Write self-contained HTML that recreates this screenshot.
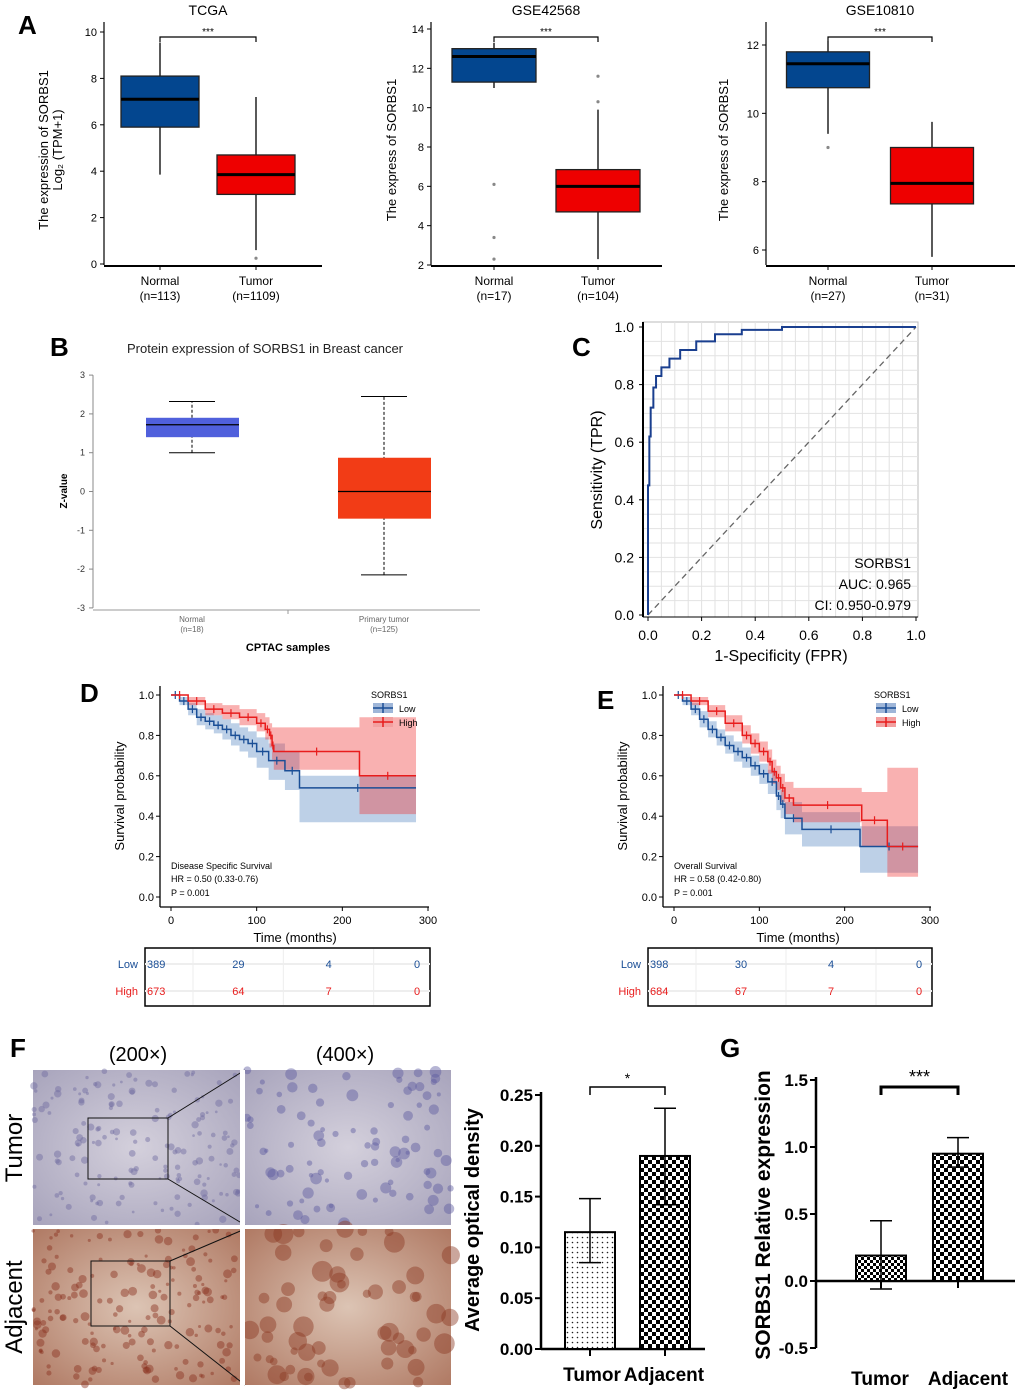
<!DOCTYPE html>
<html><head><meta charset="utf-8"><style>
html,body{margin:0;padding:0;background:#fff;}
svg{display:block;font-family:"Liberation Sans",Arial,sans-serif;}
</style></head><body>
<svg id="fig" width="1020" height="1393" viewBox="0 0 1020 1393" xmlns="http://www.w3.org/2000/svg">
<defs>
<pattern id="dots" width="5" height="5" patternUnits="userSpaceOnUse"><rect width="5" height="5" fill="#fff"/><circle cx="2.5" cy="2.5" r="0.8" fill="#222"/></pattern>
<pattern id="check" width="8" height="8" patternUnits="userSpaceOnUse"><rect width="8" height="8" fill="#fff"/><rect width="4" height="4" fill="#000"/><rect x="4" y="4" width="4" height="4" fill="#000"/></pattern>
<pattern id="check2" width="6" height="6" patternUnits="userSpaceOnUse"><rect width="6" height="6" fill="#fff"/><rect width="3" height="3" fill="#000"/><rect x="3" y="3" width="3" height="3" fill="#000"/></pattern>
<radialGradient id="tumA" cx="0.5" cy="0.5" r="0.7"><stop offset="0" stop-color="#d4d0dc"/><stop offset="1" stop-color="#a8a4bc"/></radialGradient>
<radialGradient id="adjA" cx="0.5" cy="0.5" r="0.7"><stop offset="0" stop-color="#dcc4b4"/><stop offset="1" stop-color="#b07a64"/></radialGradient>
</defs>
<g font-size="22" font-weight="bold">
<text x="18" y="34" font-size="26">A</text>
<text x="50" y="356" font-size="26">B</text>
<text x="572" y="356" font-size="26">C</text>
<text x="80" y="702" font-size="26">D</text>
<text x="597" y="709" font-size="26">E</text>
<text x="10" y="1057" font-size="26">F</text>
<text x="720" y="1057" font-size="26">G</text>
</g>
</svg>
<script>
const NS="http://www.w3.org/2000/svg";
const svg=document.getElementById('fig');
function mk(tag,attrs,parent){const e=document.createElementNS(NS,tag);for(const k in attrs)e.setAttribute(k,attrs[k]);(parent||svg).appendChild(e);return e;}
function tx(x,y,s,attrs,parent){const e=mk('text',Object.assign({x:x,y:y},attrs||{}),parent);e.textContent=s;return e;}

// ===== Panel A data =====
const aTitles=["TCGA","GSE42568","GSE10810"];
const aGroups=["Normal","Tumor"];
const aCounts=[["(n=113)","(n=1109)"],["(n=17)","(n=104)"],["(n=27)","(n=31)"]];
const aTicks=[[0,2,4,6,8,10],[2,4,6,8,10,12,14],[6,8,10,12]];
// [whiskerLow,q1,median,q3,whiskerHigh]
const aNormal=[[3.85,5.9,7.1,8.1,9.55],[11.0,11.3,12.6,13.0,13.3],[9.4,10.75,11.45,11.8,12.1]];
const aTumor=[[0.6,3.0,3.85,4.7,7.2],[2.3,4.7,6.0,6.85,9.9],[5.8,7.35,7.95,9.0,9.75]];
const aOutNormal=[[],[6.1,3.4,2.3],[9.0]];
const aOutTumor=[[0.25],[10.3,11.6],[]];
const aLayout=[
 {ax:104,x1:322,v0:0,y0:264,v1:10,y1:32,cx:[160,256],bw:78,ylab:["The expression of SORBS1","Log\u2082 (TPM+1)"],labx:[48,62]},
 {ax:431,x1:662,v0:2,y0:265,v1:14,y1:29,cx:[494,598],bw:84,ylab:["The express of SORBS1"],labx:[396]},
 {ax:766,x1:1015,v0:6,y0:250,v1:12,y1:45,cx:[828,932],bw:83,ylab:["The express of SORBS1"],labx:[728]}];
aLayout.forEach((L,i)=>{
  const g=mk('g',{});
  
  
  const ys=v=>L.y0+(v-L.v0)*(L.y1-L.y0)/(L.v1-L.v0);
  const t=tx((L.cx[0]+L.cx[1])/2,15,aTitles[i],{'text-anchor':'middle','font-size':14},g);
  
  
  const top=22, bot=265;
  mk('line',{x1:L.ax,y1:top,x2:L.ax,y2:bot,stroke:'#000','stroke-width':1.2},g);
  mk('line',{x1:L.ax,y1:bot+1,x2:L.x1,y2:bot+1,stroke:'#000','stroke-width':2},g);
  aTicks[i].forEach(v=>{
    mk('line',{x1:L.ax-4,y1:ys(v),x2:L.ax,y2:ys(v),stroke:'#000'},g);
    const tk=tx(L.ax-7,ys(v)+4,String(v),{'text-anchor':'end','font-size':11},g);
    
    
  });
  L.ylab.forEach((s,k)=>{
    const yl=tx(L.labx[k],150,s,{'text-anchor':'middle','font-size':13,transform:'rotate(-90 '+L.labx[k]+' 150)'},g);
    
    
  });
  [aNormal[i],aTumor[i]].forEach((b,j)=>{
    const cx=L.cx[j],hw=L.bw/2,col=j?'#ee0000':'#03468f';
    mk('line',{x1:cx,y1:bot+1,x2:cx,y2:bot+5,stroke:'#000'},g);
    mk('line',{x1:cx,y1:ys(b[0]),x2:cx,y2:ys(b[4]),stroke:'#000','stroke-width':1.3},g);
    const r=mk('rect',{x:cx-hw,y:ys(b[3]),width:L.bw,height:ys(b[1])-ys(b[3]),fill:col,stroke:'#222','stroke-width':1.3},g);
    
    
    mk('line',{x1:cx-hw,y1:ys(b[2]),x2:cx+hw,y2:ys(b[2]),stroke:'#000','stroke-width':3},g);
    (j?aOutTumor[i]:aOutNormal[i]).forEach(o=>{
      const c=mk('circle',{cx:cx,cy:ys(o),r:1.6,fill:'#888'},g);
      
      
    });
    const xl=tx(cx,285,aGroups[j],{'text-anchor':'middle','font-size':12},g);
    
    
    tx(cx,300,aCounts[i][j],{'text-anchor':'middle','font-size':12},g);
  });
  const by=37;
  mk('path',{d:`M${L.cx[0]} ${by+5}V${by}H${L.cx[1]}V${by+5}`,fill:'none',stroke:'#000','stroke-width':1.2},g);
  tx((L.cx[0]+L.cx[1])/2,by-2,'***',{'text-anchor':'middle','font-size':10},g);
});

// ===== Panel B data =====
const bGroups=["Normal","Primary tumor"];
const bCounts=["(n=18)","(n=125)"];
const bBoxes=[[1.0,1.4,1.72,1.9,2.32],[-2.15,-0.7,0.0,0.87,2.45]];
const bTicks=[-3,-2,-1,0,1,2,3];
(function(){
  const g=mk('g',{});
  
  
  const ys=v=>491.5-v*38.8;
  const cxs=[192,384],cols=['#5060dc','#f23c16'];
  tx(265,353,'Protein expression of SORBS1 in Breast cancer',{'text-anchor':'middle','font-size':13,fill:'#222'},g);
  mk('line',{x1:93,y1:ys(3),x2:93,y2:ys(-3),stroke:'#888'},g);
  mk('line',{x1:93,y1:610,x2:480,y2:610,stroke:'#999'},g);
  mk('line',{x1:288,y1:610,x2:288,y2:614,stroke:'#999'},g);
  bTicks.forEach(v=>{
    mk('line',{x1:89,y1:ys(v),x2:93,y2:ys(v),stroke:'#888'},g);
    tx(85,ys(v)+3,String(v),{'text-anchor':'end','font-size':9,fill:'#333'},g);
  });
  const zl=tx(67,491,'Z-value',{'text-anchor':'middle','font-size':10,'font-weight':'bold',transform:'rotate(-90 67 491)'},g);
  
  
  bBoxes.forEach((b,j)=>{
    const cx=cxs[j];
    mk('line',{x1:cx,y1:ys(b[0]),x2:cx,y2:ys(b[4]),stroke:'#000','stroke-dasharray':'3,2'},g);
    mk('line',{x1:cx-23,y1:ys(b[0]),x2:cx+23,y2:ys(b[0]),stroke:'#000'},g);
    mk('line',{x1:cx-23,y1:ys(b[4]),x2:cx+23,y2:ys(b[4]),stroke:'#000'},g);
    const r=mk('rect',{x:cx-46,y:ys(b[3]),width:93,height:ys(b[1])-ys(b[3]),fill:cols[j]},g);
    
    
    mk('line',{x1:cx-46,y1:ys(b[2]),x2:cx+47,y2:ys(b[2]),stroke:'#000','stroke-width':1.3},g);
    tx(cx,622,bGroups[j],{'text-anchor':'middle','font-size':8,fill:'#666'},g);
    tx(cx,632,bCounts[j],{'text-anchor':'middle','font-size':8,fill:'#666'},g);
  });
  tx(288,651,'CPTAC samples',{'text-anchor':'middle','font-size':11,'font-weight':'bold'},g);
})();

// ===== Panel C data =====
const rocFPR=[0,0,0.005,0.005,0.01,0.01,0.02,0.02,0.03,0.03,0.05,0.05,0.08,0.08,0.12,0.12,0.18,0.18,0.25,0.25,0.35,0.35,0.5,0.5,1.0];
const rocTPR=[0,0.45,0.45,0.62,0.62,0.72,0.72,0.79,0.79,0.83,0.83,0.86,0.86,0.89,0.89,0.92,0.92,0.95,0.95,0.975,0.975,0.99,0.99,1.0,1.0];
const rocTicks=[0,0.2,0.4,0.6,0.8,1.0];
(function(){
  const g=mk('g',{});
  
  
  const xs=v=>648+v*268, ys=v=>615-v*288;
  mk('rect',{x:643,y:322,width:275,height:295,fill:'#fff',stroke:'#bbb'},g);
  for(let v=0.05;v<1;v+=0.05){
    mk('line',{x1:xs(v),y1:322,x2:xs(v),y2:617,stroke:'#e2e2e2'},g);
    mk('line',{x1:643,y1:ys(v),x2:918,y2:ys(v),stroke:'#e2e2e2'},g);
  }
  mk('line',{x1:643,y1:322,x2:643,y2:617,stroke:'#000','stroke-width':2},g);
  mk('line',{x1:643,y1:617,x2:918,y2:617,stroke:'#000','stroke-width':1},g);
  rocTicks.forEach(v=>{
    mk('line',{x1:xs(v),y1:617,x2:xs(v),y2:621,stroke:'#000'},g);
    tx(xs(v),640,v.toFixed(1),{'text-anchor':'middle','font-size':14},g);
    mk('line',{x1:639,y1:ys(v),x2:643,y2:ys(v),stroke:'#000'},g);
    tx(634,ys(v)+5,v.toFixed(1),{'text-anchor':'end','font-size':14},g);
  });
  mk('line',{x1:xs(0),y1:ys(0),x2:xs(1),y2:ys(1),stroke:'#666','stroke-dasharray':'6,4','stroke-width':1.3},g);
  const pts=rocFPR.map((f,i)=>xs(f)+','+ys(rocTPR[i])).join(' ');
  const pl=mk('polyline',{points:pts,fill:'none',stroke:'#1a3f8f','stroke-width':2},g);
  
  
  tx(911,568,'SORBS1',{'text-anchor':'end','font-size':14},g);
  tx(911,589,'AUC: 0.965',{'text-anchor':'end','font-size':14},g);
  tx(911,610,'CI: 0.950-0.979',{'text-anchor':'end','font-size':14},g);
  const xl=tx(781,661,'1-Specificity (FPR)',{'text-anchor':'middle','font-size':16},g);
  
  
  const yl=tx(602,470,'Sensitivity (TPR)',{'text-anchor':'middle','font-size':16,transform:'rotate(-90 602 470)'},g);
  
  
})();

// ===== Panels D/E data =====
const dLowT=[0,10,20,30,40,50,60,70,80,90,100,114,133,150,286];
const dLowS=[1,0.97,0.93,0.89,0.87,0.85,0.83,0.8,0.78,0.76,0.72,0.675,0.625,0.54,0.54];
const dLowU=[1,0.99,0.96,0.93,0.91,0.9,0.88,0.86,0.84,0.82,0.79,0.76,0.72,0.6,0.6];
const dLowL=[1,0.95,0.9,0.85,0.83,0.81,0.78,0.75,0.72,0.69,0.64,0.58,0.53,0.37,0.37];
const dHighT=[0,20,40,60,80,100,110,115,118,120,220,286];
const dHighS=[1,0.97,0.93,0.91,0.89,0.86,0.83,0.8,0.75,0.72,0.6,0.6];
const dHighU=[1,0.99,0.96,0.95,0.93,0.91,0.89,0.86,0.84,0.84,0.89,0.89];
const dHighL=[1,0.95,0.9,0.88,0.85,0.82,0.78,0.74,0.68,0.63,0.41,0.41];
const eLowT=[0,10,20,30,40,50,60,70,80,90,100,110,120,125,130,150,218,286];
const eLowS=[1,0.97,0.93,0.88,0.83,0.79,0.75,0.72,0.69,0.65,0.61,0.57,0.5,0.46,0.39,0.335,0.25,0.25];
const eLowU=[1,0.99,0.96,0.92,0.87,0.83,0.8,0.77,0.74,0.7,0.66,0.63,0.57,0.53,0.47,0.42,0.35,0.35];
const eLowL=[1,0.95,0.9,0.84,0.79,0.75,0.71,0.67,0.64,0.6,0.56,0.51,0.43,0.39,0.31,0.25,0.12,0.12];
const eHighT=[0,20,40,60,80,90,100,110,115,120,125,130,140,220,250,286];
const eHighS=[1,0.97,0.92,0.86,0.8,0.76,0.72,0.67,0.62,0.59,0.54,0.49,0.455,0.38,0.25,0.25];
const eHighU=[1,0.99,0.95,0.9,0.85,0.81,0.77,0.73,0.68,0.65,0.61,0.57,0.54,0.52,0.64,0.64];
const eHighL=[1,0.95,0.89,0.82,0.76,0.71,0.67,0.61,0.56,0.53,0.47,0.41,0.37,0.25,0.1,0.1];
const riskTimes=[0,100,200,300];
const dRiskLow=[389,29,4,0], dRiskHigh=[673,64,7,0];
const eRiskLow=[398,30,4,0], eRiskHigh=[684,67,7,0];
const kmTicksX=[0,100,200,300], kmTicksY=[0,0.2,0.4,0.6,0.8,1.0];

function km(cfg){
  const g=mk('g',{});
  
  
  const xs=t=>cfg.x0+t*(cfg.x1-cfg.x0)/300, ys=v=>897-v*202;
  const ax=cfg.x0-11;
  mk('line',{x1:ax,y1:686,x2:ax,y2:907,stroke:'#000','stroke-width':1.3},g);
  mk('line',{x1:ax,y1:907,x2:cfg.x1+1,y2:907,stroke:'#000','stroke-width':1.3},g);
  kmTicksX.forEach(t=>{
    mk('line',{x1:xs(t),y1:907,x2:xs(t),y2:911,stroke:'#000'},g);
    tx(xs(t),924,String(t),{'text-anchor':'middle','font-size':11},g);
  });
  kmTicksY.forEach(v=>{
    mk('line',{x1:ax-4,y1:ys(v),x2:ax,y2:ys(v),stroke:'#000'},g);
    tx(ax-6,ys(v)+4,v.toFixed(1),{'text-anchor':'end','font-size':11},g);
  });
  function stepPath(T,S){let d=`M${xs(T[0])} ${ys(S[0])}`;for(let i=1;i<T.length;i++){d+=`H${xs(T[i])}V${ys(S[i])}`;}return d;}
  function band(T,U,L){let d=`M${xs(T[0])} ${ys(U[0])}`;for(let i=1;i<T.length;i++)d+=`H${xs(T[i])}V${ys(U[i])}`;
    d+=`V${ys(L[L.length-1])}`;for(let i=T.length-1;i>0;i--)d+=`H${xs(T[i])}V${ys(L[i-1])}`;d+=`H${xs(T[0])}Z`;return d;}
  const b1=mk('path',{d:band(cfg.lowT,cfg.lowU,cfg.lowL),fill:'#5b8ac4','fill-opacity':0.4},g);
  
  
  const b2=mk('path',{d:band(cfg.highT,cfg.highU,cfg.highL),fill:'#ee3333','fill-opacity':0.38},g);
  
  
  [[cfg.lowT,cfg.lowS,'#1a4e96','low'],[cfg.highT,cfg.highS,'#e81c1c','high']].forEach(([T,S,c,n])=>{
    const p=mk('path',{d:stepPath(T,S),fill:'none',stroke:c,'stroke-width':1.5},g);
    
    
    for(let i=1;i<T.length;i++){
      const tm=(T[i-1]+T[i])/2, y=ys(S[i-1]);
      mk('line',{x1:xs(tm),y1:y-4,x2:xs(tm),y2:y+4,stroke:c,'stroke-width':1.2},g);
    }
  });
  const lx=cfg.x0+200;
  tx(lx,698,'SORBS1',{'font-size':9},g);
  [['Low','#1a4e96','#9fb6d8',712],['High','#e81c1c','#f2a0a0',726]].forEach(([s,c,f,y])=>{
    const le=mk('g',{},g);
    
    
    mk('rect',{x:lx+2,y:y-9,width:20,height:10,fill:f},le);
    mk('line',{x1:lx+2,y1:y-4,x2:lx+22,y2:y-4,stroke:c,'stroke-width':1.5},le);
    mk('line',{x1:lx+12,y1:y-9,x2:lx+12,y2:y+1,stroke:c,'stroke-width':1.5},le);
    tx(lx+28,y,s,{'font-size':9},le);
  });
  tx(cfg.x0,869,cfg.label,{'font-size':9},g);
  tx(cfg.x0,882,cfg.hr,{'font-size':9},g);
  tx(cfg.x0,896,'P = 0.001',{'font-size':9},g);
  const xt=tx(cfg.x0+124,942,'Time (months)',{'text-anchor':'middle','font-size':13},g);
  
  
  const yt=tx(ax-36,796,'Survival probability',{'text-anchor':'middle','font-size':13,transform:`rotate(-90 ${ax-36} 796)`},g);
  
  
  // risk table
  const tb=mk('g',{},g);
  
  
  const bx0=ax-15,bx1=cfg.x1+2;
  const rx=t=>bx0+3+t*(bx1-bx0-14)/300;
  mk('rect',{x:bx0,y:948,width:bx1-bx0,height:58,fill:'#fff',stroke:'#000','stroke-width':1.5},tb);
  [0,100,200].forEach(t=>mk('line',{x1:rx(t)+45,y1:949,x2:rx(t)+45,y2:1005,stroke:'#eee'},tb));
  mk('line',{x1:bx0,y1:964,x2:bx1,y2:964,stroke:'#eee','stroke-width':2},tb);
  mk('line',{x1:bx0,y1:991,x2:bx1,y2:991,stroke:'#eee','stroke-width':2},tb);
  tx(bx0-7,968,'Low',{'text-anchor':'end','font-size':11,fill:'#1a4e96'},tb);
  tx(bx0-7,995,'High',{'text-anchor':'end','font-size':11,fill:'#e81c1c'},tb);
  riskTimes.forEach((t,i)=>{
    const anchor=i===0?'start':'middle', xx=i===0?bx0+2:rx(t)+(i===3?-2:0);
    tx(xx,968,String(cfg.rLow[i]),{'text-anchor':anchor,'font-size':11,fill:'#1a4e96'},tb);
    tx(xx,995,String(cfg.rHigh[i]),{'text-anchor':anchor,'font-size':11,fill:'#e81c1c'},tb);
  });
}
km({name:'km-disease-specific',x0:171,x1:428,lowT:dLowT,lowS:dLowS,lowU:dLowU,lowL:dLowL,highT:dHighT,highS:dHighS,highU:dHighU,highL:dHighL,label:'Disease Specific Survival',hr:'HR = 0.50 (0.33-0.76)',rLow:dRiskLow,rHigh:dRiskHigh});
km({name:'km-overall',x0:674,x1:930,lowT:eLowT,lowS:eLowS,lowU:eLowU,lowL:eLowL,highT:eHighT,highS:eHighS,highU:eHighU,highL:eHighL,label:'Overall Survival',hr:'HR = 0.58 (0.42-0.80)',rLow:eRiskLow,rHigh:eRiskHigh});

// ===== Panel F images =====
(function(){
  const g=mk('g',{});
  
  
  tx(138,1061,'(200\u00d7)',{'text-anchor':'middle','font-size':20},g);
  tx(345,1061,'(400\u00d7)',{'text-anchor':'middle','font-size':20},g);
  const rl1=tx(22,1148,'Tumor',{'text-anchor':'middle','font-size':24,transform:'rotate(-90 22 1148)'},g);
  
  
  const rl2=tx(22,1307,'Adjacent',{'text-anchor':'middle','font-size':24,transform:'rotate(-90 22 1307)'},g);
  
  
  let seed=12345;
  const rnd=()=>{seed=(seed*1103515245+12345)%2147483648;return seed/2147483648;};
  const tiles=[[33,1070,207,155,'url(#tumA)','#6e6aa0',2.5,160],[245,1070,206,155,'url(#tumA)','#5e5aa0',4,90],[33,1229,207,156,'url(#adjA)','#8a3020',3,170],[245,1229,206,156,'url(#adjA)','#8c3a24',7,60]];
  tiles.forEach((t,k)=>{
    const im=mk('rect',{x:t[0],y:t[1],width:t[2],height:t[3],fill:t[4]},g);
    
    
    for(let i=0;i<t[7];i++){
      const px=t[0]+rnd()*t[2], py=t[1]+rnd()*t[3];
      mk('circle',{cx:px,cy:py,r:t[6]*(0.5+rnd()),fill:t[5],'fill-opacity':0.45},g);
    }
  });
  mk('rect',{x:88,y:1118,width:80,height:61,fill:'none',stroke:'#111'},g);
  mk('rect',{x:91,y:1261,width:79,height:65,fill:'none',stroke:'#111'},g);
  mk('line',{x1:168,y1:1118,x2:245,y2:1070,stroke:'#111'},g);
  mk('line',{x1:168,y1:1179,x2:245,y2:1225,stroke:'#111'},g);
  mk('line',{x1:170,y1:1261,x2:245,y2:1229,stroke:'#111'},g);
  mk('line',{x1:170,y1:1326,x2:245,y2:1385,stroke:'#111'},g);
  mk('rect',{x:240,y:1070,width:5,height:315,fill:'#fff'},g);
  mk('rect',{x:33,y:1225,width:418,height:4,fill:'#fff'},g);
})();

// ===== Panel F bar chart =====
const fCats=["Tumor","Adjacent"];
const fMeans=[0.115,0.19];
const fErrHi=[0.148,0.237];
const fErrLo=[0.085,0.142];
const fTicks=[0,0.05,0.10,0.15,0.20,0.25];
// ===== Panel G bar chart =====
const gCats=["Tumor","Adjacent"];
const gMeans=[0.19,0.95];
const gErrHi=[0.45,1.07];
const gErrLo=[-0.06,0.85];
const gTicks=[-0.5,0,0.5,1.0,1.5];

function bars(cfg){
  const g=mk('g',{});
  
  
  const ys=cfg.ys;
  mk('line',{x1:cfg.ax,y1:ys(cfg.ticks[cfg.ticks.length-1])-3,x2:cfg.ax,y2:ys(cfg.ticks[0]),stroke:'#000','stroke-width':2.5},g);
  mk('line',{x1:cfg.ax,y1:ys(0),x2:cfg.xend,y2:ys(0),stroke:'#000','stroke-width':2.5},g);
  cfg.ticks.forEach(v=>{
    mk('line',{x1:cfg.ax-6,y1:ys(v),x2:cfg.ax,y2:ys(v),stroke:'#000','stroke-width':2},g);
    tx(cfg.ax-8,ys(v)+6,v.toFixed(cfg.dec),{'text-anchor':'end','font-size':17,'font-weight':'bold'},g);
  });
  cfg.cats.forEach((c,i)=>{
    const cx=cfg.cx[i],w=cfg.bw;
    const b=mk('rect',{x:cx-w/2,y:Math.min(ys(cfg.means[i]),ys(0)),width:w,height:Math.abs(ys(0)-ys(cfg.means[i])),fill:cfg.fills[i],stroke:'#000','stroke-width':2},g);
    
    
    mk('line',{x1:cx,y1:ys(cfg.lo[i]),x2:cx,y2:ys(cfg.hi[i]),stroke:'#000','stroke-width':1.5},g);
    mk('line',{x1:cx-11,y1:ys(cfg.hi[i]),x2:cx+11,y2:ys(cfg.hi[i]),stroke:'#000','stroke-width':1.5},g);
    mk('line',{x1:cx-11,y1:ys(cfg.lo[i]),x2:cx+11,y2:ys(cfg.lo[i]),stroke:'#000','stroke-width':1.5},g);
    mk('line',{x1:cx,y1:cfg.tickY,x2:cx,y2:cfg.tickY+7,stroke:'#000','stroke-width':2},g);
    const xl=tx(cfg.lx[i],cfg.ly,c,{'text-anchor':'middle','font-size':19,'font-weight':'bold'},g);
    
    
  });
  mk('path',{d:`M${cfg.cx[0]} ${cfg.brY+8}V${cfg.brY}H${cfg.cx[1]}V${cfg.brY+8}`,fill:'none',stroke:'#000','stroke-width':cfg.brW},g);
  tx((cfg.cx[0]+cfg.cx[1])/2,cfg.brY-4,cfg.star,{'text-anchor':'middle','font-size':cfg.starSize},g);
  const yt=tx(cfg.ylx,cfg.yly,cfg.ylabel,{'text-anchor':'middle','font-size':cfg.ylSize,'font-weight':'bold',transform:`rotate(-90 ${cfg.ylx} ${cfg.yly})`},g);
  
  
}
bars({name:'optical-density-bars',ax:541,xend:705,ys:v=>1349-v*1016,ticks:fTicks,dec:2,cats:fCats,means:fMeans,hi:fErrHi,lo:fErrLo,cx:[590,665],bw:50,fills:['url(#dots)','url(#check)'],tickY:1349,lx:[592,664],ly:1381,brY:1087,brW:1.5,star:'*',starSize:14,ylx:479,yly:1220,ylabel:'Average optical density',ylSize:20});
bars({name:'relative-expression-bars',ax:816,xend:1015,ys:v=>1281-v*134,ticks:gTicks,dec:1,cats:gCats,means:gMeans,hi:gErrHi,lo:gErrLo,cx:[881,958],bw:50,fills:['url(#check2)','url(#check)'],tickY:1281,lx:[880,968],ly:1385,brY:1087,brW:3,star:'***',starSize:18,ylx:770,yly:1215,ylabel:'SORBS1 Relative expression',ylSize:21});
mk('line',{x1:810,y1:1348,x2:816,y2:1348,stroke:'#000','stroke-width':2});
</script>
</body></html>
